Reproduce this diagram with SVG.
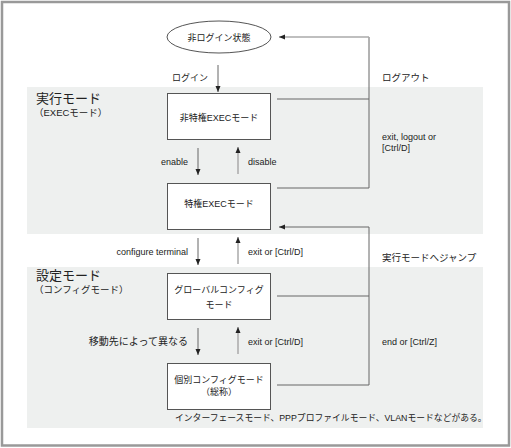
<svg xmlns="http://www.w3.org/2000/svg" width="511" height="448" viewBox="0 0 511 448">
<style>
text{font-family:"Liberation Sans","Noto Sans CJK JP",sans-serif;fill:#222;font-size:9px}
.h{font-size:13px}
.s{font-size:9.5px}
.box{fill:#fff;stroke:#555;stroke-width:1}
.ln{fill:none;stroke:#666;stroke-width:1}
.lt{fill:none;stroke:#aaa;stroke-width:1.5}
.m{text-anchor:middle}
.e{text-anchor:end}
</style>
<defs>
<marker id="ah" viewBox="0 0 6 6" refX="6" refY="3" markerWidth="6" markerHeight="6" markerUnits="userSpaceOnUse" orient="auto">
<path d="M0,0.5 L6,3 L0,5.5 Z" fill="#222"/>
</marker>
</defs>
<rect x="0" y="0" width="511" height="448" fill="#fff"/>
<rect x="2" y="2" width="507" height="443.5" fill="none" stroke="#999" stroke-width="2.5"/>
<rect x="27" y="87" width="456" height="147" fill="#eef0ef"/>
<rect x="27" y="267" width="456" height="161" fill="#eef0ef"/>
<g id="labels">
<text class="h" x="36" y="103">実行モード</text>
<text class="s" x="34" y="116">（EXECモード）</text>
<text class="h" x="36" y="280">設定モード</text>
<text class="s" x="34" y="293">（コンフィグモード）</text>
</g>
<g id="connectors">
<line class="ln" x1="218" y1="65" x2="218" y2="92" marker-end="url(#ah)"/>
<line class="ln" x1="198" y1="148" x2="198" y2="175" marker-end="url(#ah)"/>
<line class="lt" x1="238" y1="174" x2="238" y2="147" marker-end="url(#ah)"/>
<line class="ln" x1="198" y1="238" x2="198" y2="265" marker-end="url(#ah)"/>
<line class="lt" x1="238" y1="264" x2="238" y2="237" marker-end="url(#ah)"/>
<line class="ln" x1="198" y1="328" x2="198" y2="355" marker-end="url(#ah)"/>
<line class="lt" x1="238" y1="354" x2="238" y2="327" marker-end="url(#ah)"/>
<line class="ln" x1="277" y1="99" x2="369" y2="99"/>
<polyline class="ln" points="277,188 369,188 369,37"/>
<line class="lt" x1="369" y1="37" x2="279" y2="37" marker-end="url(#ah)"/>
<line class="ln" x1="277" y1="296" x2="369" y2="296"/>
<polyline class="ln" points="277,385 369,385 369,227 279,227" marker-end="url(#ah)"/>
<text x="172" y="81">ログイン</text>
<text class="s" x="382" y="81">ログアウト</text>
<text x="382" y="140">exit, logout or</text>
<text x="382" y="151">[Ctrl/D]</text>
<text class="e" x="188" y="165">enable</text>
<text x="248" y="165">disable</text>
<text class="e" x="188" y="255">configure terminal</text>
<text x="248" y="255">exit or [Ctrl/D]</text>
<text class="s" x="382" y="261">実行モードへジャンプ</text>
<text class="e" x="188" y="345" style="font-size:10px">移動先によって異なる</text>
<text x="248" y="345">exit or [Ctrl/D]</text>
<text x="382" y="345">end or [Ctrl/Z]</text>
</g>
<g id="n0">
<ellipse cx="219" cy="37" rx="52" ry="16" fill="#fff" stroke="#555"/>
<text class="m" x="219" y="40.5">非ログイン状態</text>
</g>
<g id="n1">
<rect class="box" x="167.5" y="93.5" width="103" height="46"/>
<text class="m" x="219" y="121">非特権EXECモード</text>
</g>
<g id="n2">
<rect class="box" x="167.5" y="183.5" width="103" height="46"/>
<text class="m" x="219" y="207">特権EXECモード</text>
</g>
<g id="n3">
<rect class="box" x="167.5" y="273.5" width="103" height="46"/>
<text class="m" x="219" y="293">グローバルコンフィグ</text>
<text class="m" x="219" y="308">モード</text>
</g>
<g id="n4">
<rect class="box" x="167.5" y="363.5" width="103" height="46"/>
<text class="m" x="219" y="383">個別コンフィグモード</text>
<text class="m" x="219" y="395">（総称）</text>
</g>
<text x="175" y="421" style="font-size:8.8px">インターフェースモード、PPPプロファイルモード、VLANモードなどがある。</text>
</svg>
